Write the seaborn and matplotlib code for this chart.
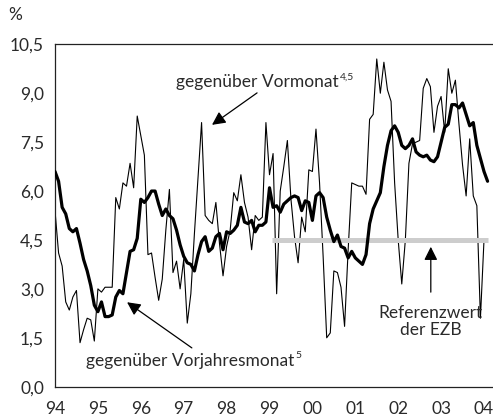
import numpy as np
import pandas as pd
import seaborn as sns
import matplotlib.pyplot as plt

# Monatswerte Jan 1994 .. Feb 2004
vorjahr_1994 = [6.6, 6.3, 5.5, 5.3, 4.85, 4.75, 4.85, 4.4, 3.9, 3.55, 3.1, 2.5]
vorjahr_1995 = [2.3, 2.6, 2.15, 2.15, 2.2, 2.75, 2.95, 2.85, 3.5, 4.15, 4.2, 4.55]
vorjahr_1996 = [5.75, 5.65, 5.8, 6.0, 6.0, 5.6, 5.25, 5.45, 5.25, 5.15, 4.8, 4.35]
vorjahr_1997 = [4.0, 3.8, 3.75, 3.55, 4.05, 4.45, 4.6, 4.15, 4.25, 4.6, 4.7, 4.2]
vorjahr_1998 = [4.75, 4.7, 4.8, 4.95, 5.5, 5.05, 5.0, 5.1, 4.75, 4.95, 4.95, 5.05]
vorjahr_1999 = [6.1, 5.5, 5.55, 5.35, 5.6, 5.7, 5.8, 5.85, 5.8, 5.4, 5.7, 5.65]
vorjahr_2000 = [5.1, 5.85, 5.95, 5.8, 5.2, 4.8, 4.45, 4.65, 4.3, 4.25, 3.95, 4.15]
vorjahr_2001 = [3.95, 3.85, 3.75, 4.05, 5.0, 5.45, 5.7, 5.95, 6.75, 7.4, 7.85, 8.0]
vorjahr_2002 = [7.8, 7.4, 7.3, 7.4, 7.6, 7.2, 7.1, 7.05, 7.1, 6.95, 6.9, 7.05]
vorjahr_2003 = [7.5, 7.95, 8.05, 8.65, 8.65, 8.55, 8.7, 8.35, 8.0, 8.1, 7.4, 7.0]
vorjahr_2004 = [6.6, 6.3]

vormonat_1994 = [5.4, 4.1, 3.7, 2.6, 2.35, 2.75, 2.95, 1.35, 1.75, 2.1, 2.05, 1.4]
vormonat_1995 = [3.0, 2.9, 3.05, 3.05, 3.05, 5.8, 5.45, 6.25, 6.15, 6.85, 6.1, 8.3]
vormonat_1996 = [7.7, 7.1, 4.05, 4.1, 3.35, 2.65, 3.3, 4.8, 6.05, 3.5, 3.85, 3.0]
vormonat_1997 = [3.9, 1.95, 2.85, 4.7, 6.4, 8.1, 5.25, 5.1, 5.0, 5.65, 4.4, 3.4]
vormonat_1998 = [4.3, 4.8, 5.95, 5.7, 6.5, 5.65, 5.2, 4.2, 5.25, 5.1, 5.2, 8.1]
vormonat_1999 = [6.5, 7.15, 2.85, 6.0, 6.75, 7.55, 5.75, 4.6, 3.8, 5.2, 4.75, 6.65]
vormonat_2000 = [6.6, 7.9, 6.25, 4.0, 1.5, 1.65, 3.55, 3.5, 3.05, 1.85, 4.2, 6.25]
vormonat_2001 = [6.2, 6.15, 6.15, 5.9, 8.2, 8.35, 10.05, 9.0, 9.95, 9.1, 8.75, 6.25]
vormonat_2002 = [4.5, 3.15, 4.5, 6.85, 7.45, 7.5, 7.55, 9.15, 9.45, 9.2, 7.8, 8.6]
vormonat_2003 = [8.9, 7.8, 9.75, 9.0, 9.4, 8.05, 6.8, 5.85, 7.6, 5.85, 5.55, 2.1]
vormonat_2004 = [4.5]

referenzwert = 4.5
referenz_von, referenz_bis = 1999.05, 2004.1

year_ticks = list(range(1994, 2005))
year_labels = ["94", "95", "96", "97", "98", "99", "00", "01", "02", "03", "04"]
y_ticks = [0.0, 1.5, 3.0, 4.5, 6.0, 7.5, 9.0, 10.5]

vorjahr = (vorjahr_1994 + vorjahr_1995 + vorjahr_1996 + vorjahr_1997 + vorjahr_1998
           + vorjahr_1999 + vorjahr_2000 + vorjahr_2001 + vorjahr_2002 + vorjahr_2003
           + vorjahr_2004)
vormonat = (vormonat_1994 + vormonat_1995 + vormonat_1996 + vormonat_1997 + vormonat_1998
            + vormonat_1999 + vormonat_2000 + vormonat_2001 + vormonat_2002 + vormonat_2003
            + vormonat_2004)

df_vj = pd.DataFrame({"t": 1994 + np.arange(len(vorjahr)) / 12, "wert": vorjahr})
df_vm = pd.DataFrame({"t": 1994 + np.arange(len(vormonat)) / 12, "wert": vormonat})
df_ref = pd.DataFrame({"t": [referenz_von, referenz_bis], "wert": [referenzwert, referenzwert]})

sns.set_style("white")
plt.rcParams['font.family'] = ['Lato', 'DejaVu Sans']
fs = 12.5
txt_col = "#2a2a2a"

fig = plt.figure(figsize=(4.93, 4.18), dpi=100)
ax = fig.add_axes([55 / 493, 1 - 386.7 / 418, 438 / 493, 342.4 / 418])

sns.lineplot(data=df_vm, x="t", y="wert", ax=ax, color="black", lw=0.8, zorder=2)
sns.lineplot(data=df_ref, x="t", y="wert", ax=ax, color="#cdcdcd", lw=3.6, zorder=3,
             solid_capstyle="butt")
sns.lineplot(data=df_vj, x="t", y="wert", ax=ax, color="black", lw=2.3, zorder=4)

ax.set_xlim(1994, 1994 + 438 / 42.9)
ax.set_ylim(0, 10.5)
ax.set_xticks(year_ticks)
ax.set_xticklabels(year_labels)
ax.set_yticks(y_ticks)
ax.set_yticklabels([f"{v:.1f}".replace(".", ",") for v in y_ticks])
ax.set_xlabel("")
ax.set_ylabel("")
ax.tick_params(axis="both", direction="out", length=4, width=0.9, color="#222222",
               labelsize=fs, labelcolor=txt_col, pad=4)
ax.tick_params(axis="x", pad=6)
for side in ["left", "bottom", "top"]:
    ax.spines[side].set_color("#222222")
    ax.spines[side].set_linewidth(0.9)
ax.spines["right"].set_visible(False)

fig.text(8 / 493, 1 - 15 / 418, "%", fontsize=fs, color=txt_col, va="center", ha="left")

arrow = dict(arrowstyle="-|>", color="black", lw=0.9, mutation_scale=20, shrinkA=0, shrinkB=0)

t1 = ax.text(1994 + 121 / 42.9, 9.33, "gegenüber Vormonat", fontsize=fs, color=txt_col,
             ha="left", va="center")
ax.annotate("4,5", xy=(1, 0.85), xycoords=t1, xytext=(1, 0), textcoords="offset points",
            fontsize=7.5, color=txt_col, ha="left", va="center")
ax.annotate("", xy=(1997.66, 8.03), xytext=(1998.71, 9.01), arrowprops=arrow)

t2 = ax.text(1994 + 31 / 42.9, 0.79, "gegenüber Vorjahresmonat", fontsize=fs, color=txt_col,
             ha="left", va="center")
ax.annotate("5", xy=(1, 0.85), xycoords=t2, xytext=(1, 0), textcoords="offset points",
            fontsize=7.5, color=txt_col, ha="left", va="center")
ax.annotate("", xy=(1995.68, 2.59), xytext=(1997.19, 1.19), arrowprops=arrow)

ax.text(2002.76, 2.5, "Referenzwert\nder EZB", fontsize=fs, color=txt_col,
        ha="center", va="top", linespacing=1.1)
ax.annotate("", xy=(2002.76, 4.29), xytext=(2002.76, 2.9), arrowprops=arrow)

fig.savefig("out.png", dpi=100)
